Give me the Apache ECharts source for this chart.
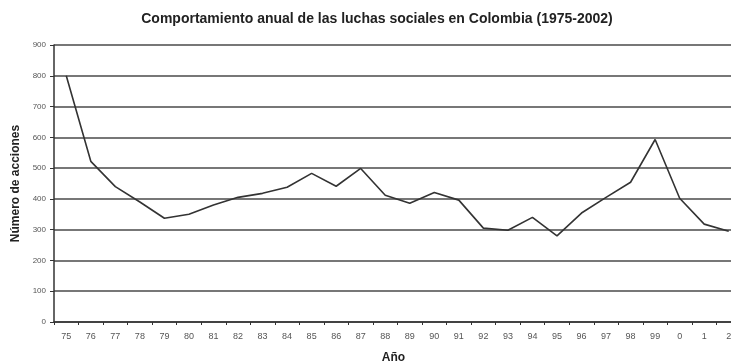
<!DOCTYPE html>
<html>
<head>
<meta charset="utf-8">
<script src="https://cdn.jsdelivr.net/npm/echarts@6/dist/echarts.min.js"></script>
<style>
  html, body { margin: 0; padding: 0; background: #ffffff; }
  #chart { width: 731px; height: 362px; }
</style>
</head>
<body>
<div id="chart"></div>
<script>
// Años (etiquetas abreviadas del eje X)
const years = ['75','76','77','78','79','80','81','82','83','84','85','86','87','88','89',
               '90','91','92','93','94','95','96','97','98','99','0','1','2'];
// Número de acciones por año
const acciones = [800, 522, 440, 390, 337, 350, 380, 405, 418, 438, 483, 441, 499, 412, 386,
                  421, 396, 305, 298, 340, 280, 354, 405, 454, 593, 402, 318, 295];
// Escala del eje Y
const yMin = 0, yMax = 900, yStep = 100;

const chart = echarts.init(document.getElementById('chart'), null, { renderer: 'canvas' });
chart.setOption({
  animation: false,
  backgroundColor: '#ffffff',
  textStyle: { fontFamily: 'Liberation Sans, Arial, sans-serif' },
  title: {
    text: 'Comportamiento anual de las luchas sociales en Colombia (1975-2002)',
    left: 372, top: 7, textAlign: 'center',
    textStyle: { fontSize: 14, fontWeight: 'bold', color: '#222' }
  },
  grid: {
    left: 54, top: 45, width: 687, height: 277,
    containLabel: false, outerBoundsMode: 'none'
  },
  xAxis: {
    type: 'category',
    data: years,
    boundaryGap: true,
    name: 'Año',
    nameLocation: 'middle',
    nameGap: 30,
    nameTextStyle: { fontSize: 12, fontWeight: 'bold', color: '#222', padding: [0, 8, 0, 0] },
    axisLine: { lineStyle: { color: '#333', width: 1.5 } },
    axisTick: { show: true, length: 3, lineStyle: { color: '#333' } },
    axisLabel: { fontSize: 9, color: '#555', margin: 10 }
  },
  yAxis: {
    type: 'value',
    min: yMin, max: yMax, interval: yStep,
    name: 'Número de acciones',
    nameLocation: 'middle',
    nameGap: 29,
    nameRotate: 90,
    nameTextStyle: { fontSize: 12, fontWeight: 'bold', color: '#222' },
    axisLine: { show: true, lineStyle: { color: '#333', width: 1.5 } },
    axisTick: { show: true, length: 4, lineStyle: { color: '#333' } },
    axisLabel: { fontSize: 8, color: '#555', margin: 8 },
    splitLine: { show: true, lineStyle: { color: '#4a4a4a', width: 1.6 } }
  },
  series: [{
    type: 'line',
    data: acciones,
    symbol: 'none',
    lineStyle: { color: '#333', width: 1.6 }
  }]
});
</script>
</body>
</html>
